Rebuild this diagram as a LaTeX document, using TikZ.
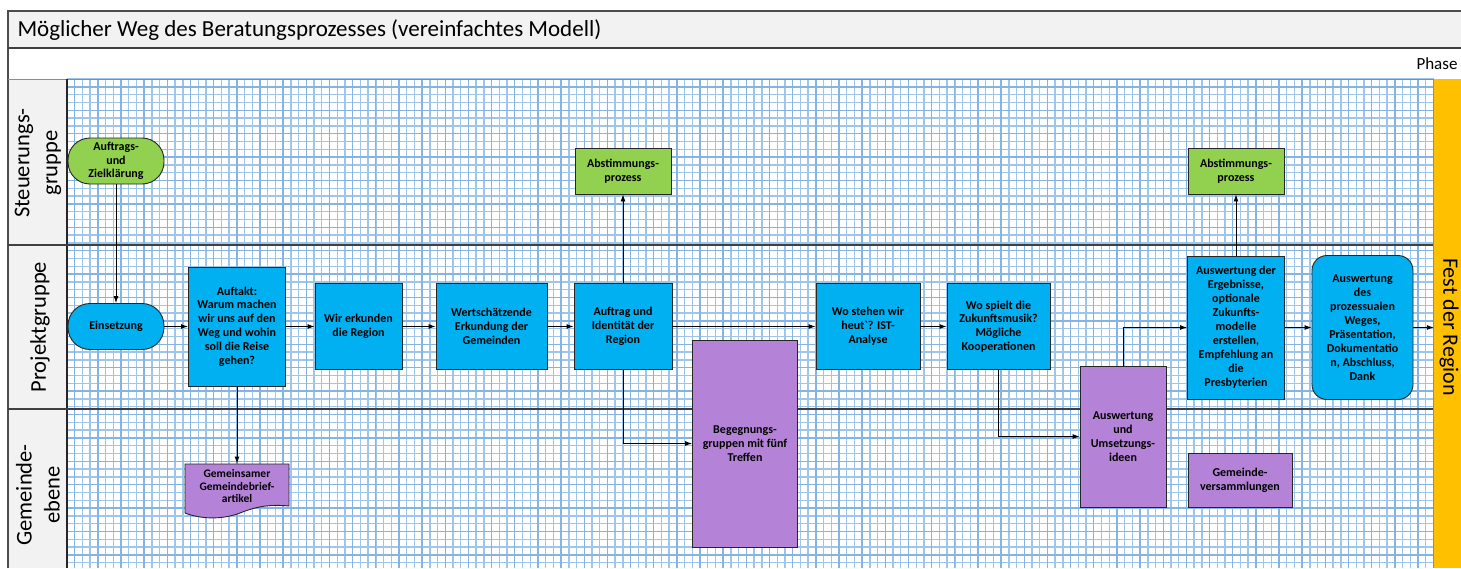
\documentclass[tikz,border=0pt]{standalone}
\usepackage{fontspec}
\setmainfont{Carlito}
\usetikzlibrary{arrows.meta,positioning}

\definecolor{procblue}{RGB}{0,176,240}
\definecolor{votegreen}{RGB}{146,208,80}
\definecolor{locallila}{RGB}{180,130,215}
\definecolor{festyellow}{RGB}{255,192,0}
\definecolor{gridminor}{RGB}{158,197,234}
\definecolor{gridmajor}{RGB}{132,180,228}
\definecolor{headgray}{RGB}{242,242,242}

\begin{document}
\begin{tikzpicture}[x=1pt,y=-1pt,>={Latex[length=7pt,width=5pt]},
    main node/.style={draw=black!85,line width=0.9pt,align=center,inner sep=1pt,
      font=\bfseries\fontsize{12}{13.8}\selectfont},
    start node/.style={main node,rounded corners=22pt,minimum width=96,minimum height=46},
    proc node/.style={main node,fill=procblue},
    vote node/.style={main node,fill=votegreen,minimum width=96,minimum height=46},
    local node/.style={main node,fill=locallila},
    lane label/.style={rotate=90,align=center,font=\fontsize{22.5}{28}\selectfont},
    grid minor/.style={gridminor,line width=1.4pt},
    grid major/.style={gridmajor,line width=1.4pt},
    lane line/.style={black!75,line width=1.2pt},
    flow/.style={->,black,line width=0.9pt}]

\useasboundingbox (0,0) rectangle (1461,568);

% frame and header
\fill[headgray] (8,11) rectangle (1470,48);
\fill[headgray] (8,79) rectangle (67,568);
\fill[white] (67,79) rectangle (1434,568);

% grid paper
\foreach \i in {0,...,177}
  \draw[grid minor] ({67+7.72*\i},79) -- ({67+7.72*\i},568);
\foreach \j in {0,...,62}
  \draw[grid minor] (67,{79+7.8*\j}) -- (1434,{79+7.8*\j});
\foreach \i in {0,...,58}
  \draw[grid major] ({74.7+23.16*\i},79) -- ({74.7+23.16*\i},568);
\foreach \j in {0,...,20}
  \draw[grid major] (67,{86.8+23.4*\j}) -- (1434,{86.8+23.4*\j});

\draw[black!70,line width=1.2pt] (8,568) -- (8,11) -- (1470,11);
\draw[black!75,line width=1.5pt] (8,48) -- (1470,48);
\draw[black!45,line width=0.8pt] (8,79) -- (1470,79);
\draw[black!85,line width=1.2pt] (67,79) -- (67,568);
\draw[lane line] (8,245) -- (1434,245);
\draw[lane line] (8,409) -- (1434,409);

\node[anchor=west,font=\fontsize{23}{27}\selectfont] (title) at (14,30)
  {Möglicher Weg des Beratungsprozesses (vereinfachtes Modell)};
\node[anchor=east,font=\fontsize{17}{20}\selectfont] (phase) at (1461,64) {Phase};

\node[lane label] (steuer) at (38,163) {Steuerungs-\\gruppe};
\node[lane label] (projekt) at (40,327) {Projektgruppe};
\node[lane label] (gemeinde) at (38,495) {Gemeinde-\\ebene};

\node[fill=festyellow,minimum width=27,minimum height=489,inner sep=0pt] (fest) at (1447.5,323.5) {};
\draw[black!45,line width=1pt] (fest.north west) -- (fest.south west);
\node[rotate=-90,font=\fontsize{22}{26}\selectfont] (festtext) at (1449,327) {Fest der Region};

% Steuerungsgruppe
\node[start node,fill=votegreen] (ziel) at (116,161) {Auftrags-\\und\\Zielklärung};
\node[vote node] (abstimmA) at (623,171) {Abstimmungs-\\prozess};
\node[vote node] (abstimmB) at (1236,171) {Abstimmungs-\\prozess};

% Projektgruppe
\node[start node,fill=procblue] (einsetzung) at (116,326.5) {Einsetzung};
\node[proc node,minimum width=97,minimum height=119] (auftakt) at (237,326.5)
  {Auftakt:\\Warum machen\\wir uns auf den\\Weg und wohin\\soll die Reise\\gehen?};
\node[proc node,minimum width=87,minimum height=86] (erkunden) at (358.5,326.5) {Wir erkunden\\die Region};
\node[proc node,minimum width=111,minimum height=86] (wertschaetzung) at (491.5,326.5)
  {Wertschätzende\\Erkundung der\\Gemeinden};
\node[proc node,minimum width=98,minimum height=86] (auftrag) at (623,326.5) {Auftrag und\\Identität der\\Region};
\node[proc node,minimum width=104,minimum height=86] (iststand) at (868,326.5)
  {Wo stehen wir\\heut\textasciigrave? IST-\\Analyse};
\node[proc node,minimum width=103,minimum height=86] (zukunft) at (998.5,326.5)
  {Wo spielt die\\Zukunftsmusik?\\Mögliche\\Kooperationen};
\node[proc node,minimum width=97,minimum height=143,font=\bfseries\fontsize{12}{14}\selectfont] (ergebnisse) at (1236,327.5)
  {Auswertung der\\Ergebnisse,\\optionale\\Zukunfts-\\modelle\\erstellen,\\Empfehlung an\\die\\Presbyterien};
\node[proc node,rounded corners=15pt,minimum width=101,minimum height=144,font=\bfseries\fontsize{12}{14}\selectfont] (abschluss) at (1362.5,327.5)
  {Auswertung\\des\\prozessualen\\Weges,\\Präsentation,\\Dokumentatio\\n, Abschluss,\\Dank};

% Gemeindeebene
\node[local node,minimum width=105,minimum height=207] (begegnung) at (745,443.5)
  {Begegnungs-\\gruppen mit fünf\\Treffen};
\node[local node,minimum width=86,minimum height=141] (umsetzung) at (1123,436.5)
  {Auswertung\\und\\Umsetzungs-\\ideen};
\node[local node,minimum width=104,minimum height=54] (versammlung) at (1240,480)
  {Gemeinde-\\versammlungen};
\filldraw[fill=locallila,draw=black!85,line width=0.9pt] (185,464) -- (289,464) -- (289,506)
  .. controls (268,504) and (255,507) .. (240,513)
  .. controls (222,520) and (200,519) .. (185,513) -- cycle;
\node[main node,draw=none,minimum width=104,minimum height=44,font=\bfseries\fontsize{11.5}{12.8}\selectfont] (brief) at (237,486)
  {Gemeinsamer\\Gemeindebrief-\\artikel};

% connectors
\path[flow]
(ziel) edge (einsetzung)
(einsetzung) edge (auftakt)
(auftakt) edge (erkunden)
(erkunden) edge (wertschaetzung)
(wertschaetzung) edge (auftrag)
(auftrag) edge (abstimmA)
(auftrag) edge (iststand)
(iststand) edge (zukunft)
(auftakt) edge (brief)
(ergebnisse) edge (abstimmB)
(ergebnisse) edge (abschluss)
;
\draw[flow] (auftrag.south) |- (begegnung.west);
\draw[flow] (zukunft.south) |- (umsetzung.west);
\draw[flow] (umsetzung.north) |- (ergebnisse.west);
\draw[flow] (abschluss.east) -- (abschluss.east -| fest.west);

\end{tikzpicture}
\end{document}
